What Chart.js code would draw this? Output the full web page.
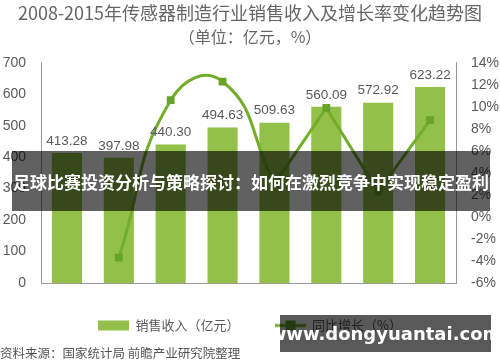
<!DOCTYPE html>
<html lang="zh">
<head>
<meta charset="UTF-8">
<title>2008-2015年传感器制造行业销售收入及增长率变化趋势图</title>
<script src="https://cdn.jsdelivr.net/npm/chart.js"></script>
<style>
  html, body { margin: 0; padding: 0; background: #fff; }
  #wrap { position: relative; width: 500px; height: 362px; overflow: hidden; font-family: "Noto Sans CJK SC", sans-serif; }
  #source { position: absolute; left: 0; top: 343px; font-size: 12.5px; color: #555; white-space: nowrap; }
  #banner {
    position: absolute; left: 12px; top: 151px; width: 478px; height: 60px;
    background: rgba(0, 0, 0, 0.62); color: #fff; font-weight: bold; font-size: 17px;
    display: flex; align-items: center; justify-content: center; white-space: nowrap;
  }
  #mark {
    position: absolute; left: 280px; top: 315px; width: 211px; height: 37px;
    background: rgba(0, 0, 0, 0.65); color: #fff; font-weight: bold; font-size: 18px;
    font-family: "DejaVu Sans", sans-serif;
    display: flex; align-items: center; justify-content: center; white-space: nowrap;
  }
</style>
</head>
<body>
<div id="wrap">
  <canvas id="chart" width="500" height="362"></canvas>
  <div id="source">资料来源：国家统计局 前瞻产业研究院整理</div>
  <div id="banner">足球比赛投资分析与策略探讨：如何在激烈竞争中实现稳定盈利</div>
  <div id="mark">www.dongyuantai.com</div>
</div>
<script>
  const years = ['2008年', '2009年', '2010年', '2011年', '2012年', '2013年', '2014年', '2015年E'];
  const sales = [413.28, 397.98, 440.30, 494.63, 509.63, 560.09, 572.92, 623.22];
  const growth = [null, -3.7, 10.6, 12.3, 3.0, 9.9, 2.3, 8.8];
  const salesTicks = [0, 100, 200, 300, 400, 500, 600, 700];
  const growthTicks = [-6, -4, -2, 0, 2, 4, 6, 8, 10, 12, 14];

  const barColor = '#92c048';
  const lineColor = '#72ad2c';
  const markColor = '#67a326';
  const textColor = '#5a5a5a';
  const axisColor = '#9a9a9a';
  const numFont = '"Liberation Sans", "Noto Sans CJK SC", sans-serif';

  // 2009-2012 段是平滑曲线，之后是折线
  const growthSmooth = growth.map((v, i) => i <= 4 ? v : null);
  const growthStraight = growth.map((v, i) => i >= 4 ? v : null);

  function legendIcon(kind) {
    const c = document.createElement('canvas');
    c.width = 31; c.height = 12;
    const g = c.getContext('2d');
    if (kind === 'bar') {
      g.fillStyle = barColor;
      g.fillRect(0, 1, 31, 10);
    } else {
      g.strokeStyle = lineColor;
      g.lineWidth = 3;
      g.beginPath(); g.moveTo(0, 6); g.lineTo(31, 6); g.stroke();
      g.fillStyle = markColor;
      g.fillRect(11, 1, 10, 10);
    }
    return c;
  }
  const icons = [legendIcon('bar'), legendIcon('line')];

  const barLabels = {
    id: 'barLabels',
    afterDatasetsDraw(chart) {
      const ctx = chart.ctx;
      const meta = chart.getDatasetMeta(0);
      ctx.save();
      ctx.font = '13.5px ' + numFont;
      ctx.fillStyle = textColor;
      ctx.textAlign = 'center';
      ctx.textBaseline = 'middle';
      meta.data.forEach((bar, i) => {
        ctx.fillText(sales[i].toFixed(2), bar.x, bar.y - 12);
      });
      ctx.restore();
    }
  };

  new Chart(document.getElementById('chart'), {
    data: {
      labels: years,
      datasets: [
        {
          type: 'bar',
          label: '销售收入（亿元）',
          data: sales,
          backgroundColor: barColor,
          yAxisID: 'y',
          order: 2,
          categoryPercentage: 1,
          barPercentage: 0.58
        },
        {
          type: 'line',
          label: '同比增长（%）',
          data: growthSmooth,
          borderColor: lineColor,
          borderWidth: 3,
          tension: 0.5,
          pointStyle: 'rect',
          pointRadius: 5.5,
          pointBackgroundColor: markColor,
          pointBorderWidth: 0,
          yAxisID: 'y1',
          order: 0
        },
        {
          type: 'line',
          label: '同比增长',
          data: growthStraight,
          borderColor: lineColor,
          borderWidth: 3,
          tension: 0,
          pointStyle: 'rect',
          pointRadius: 5.5,
          pointBackgroundColor: markColor,
          pointBorderWidth: 0,
          yAxisID: 'y1',
          order: 1
        }
      ]
    },
    options: {
      responsive: false,
      animation: false,
      layout: { padding: { left: 0, right: 0, top: 0, bottom: 20 } },
      plugins: {
        tooltip: { enabled: false },
        title: {
          display: true,
          text: '2008-2015年传感器制造行业销售收入及增长率变化趋势图',
          color: '#666',
          font: { size: 18, weight: 'normal', family: '"Noto Sans CJK SC", sans-serif' },
          padding: { top: 2, bottom: 2 }
        },
        subtitle: {
          display: true,
          text: '（单位：亿元，%）',
          color: '#666',
          font: { size: 16, weight: 'normal', family: '"Noto Sans CJK SC", sans-serif' },
          padding: { top: 2, bottom: 16 }
        },
        legend: {
          position: 'bottom',
          labels: {
            usePointStyle: true,
            pointStyleWidth: 31,
            padding: 35,
            color: textColor,
            font: { size: 13, family: '"Noto Sans CJK SC", sans-serif' },
            filter: item => item.datasetIndex !== 2,
            sort: (a, b) => a.datasetIndex - b.datasetIndex,
            generateLabels(chart) {
              const items = Chart.defaults.plugins.legend.labels.generateLabels(chart);
              items.forEach(it => { it.pointStyle = icons[it.datasetIndex === 0 ? 0 : 1]; });
              return items;
            }
          }
        }
      },
      scales: {
        x: {
          grid: { display: false },
          border: { display: true, color: axisColor },
          ticks: { color: textColor, padding: 17, font: { size: 12, family: numFont } },
          afterFit(scale) { scale.height = 1; }
        },
        y: {
          position: 'left',
          min: 0, max: 700,
          afterBuildTicks(scale) { scale.ticks = salesTicks.map(v => ({ value: v })); },
          grid: { display: false },
          border: { display: true, color: axisColor },
          ticks: { color: textColor, padding: 7, font: { size: 14, family: numFont } },
          afterFit(scale) { scale.width = 41; }
        },
        y1: {
          position: 'right',
          min: -6, max: 14,
          afterBuildTicks(scale) { scale.ticks = growthTicks.map(v => ({ value: v })); },
          grid: { display: false },
          border: { display: true, color: axisColor },
          ticks: { color: textColor, padding: 7, font: { size: 14, family: numFont }, callback: v => v + '%' },
          afterFit(scale) { scale.width = 44; }
        }
      }
    },
    plugins: [barLabels]
  });
</script>
</body>
</html>
